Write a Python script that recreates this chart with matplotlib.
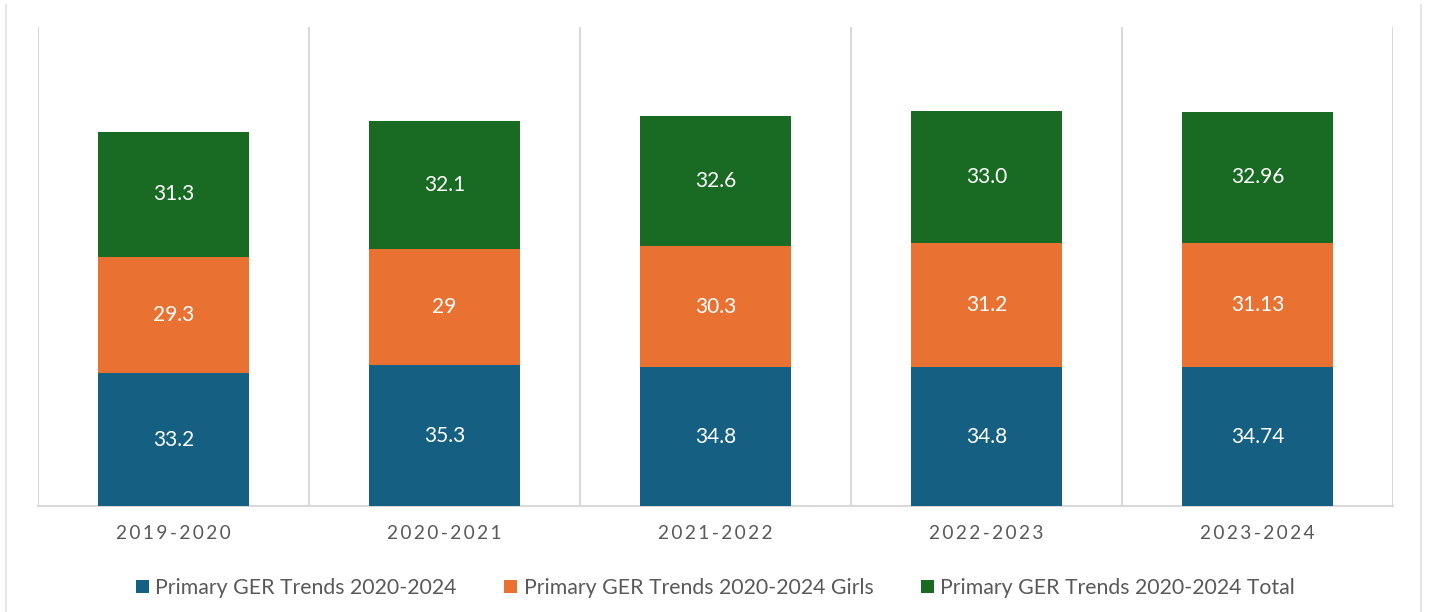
import matplotlib
matplotlib.use("Agg")
import matplotlib.pyplot as plt
import numpy as np
from matplotlib.lines import Line2D
from matplotlib.patches import Patch

years = ["2019-2020", "2020-2021", "2021-2022", "2022-2023", "2023-2024"]
ger = [33.2, 35.3, 34.8, 34.8, 34.74]
ger_girls = [29.3, 29.0, 30.3, 31.2, 31.13]
ger_total = [31.3, 32.1, 32.6, 33.0, 32.96]
label_girls = ["29.3", "29", "30.3", "31.2", "31.13"]
label_ger = ["33.2", "35.3", "34.8", "34.8", "34.74"]
label_total = ["31.3", "32.1", "32.6", "33.0", "32.96"]
series_names = ["Primary GER Trends 2020-2024",
                "Primary GER Trends 2020-2024 Girls",
                "Primary GER Trends 2020-2024 Total"]

colors = ["#156082", "#E97132", "#196B24"]
grid_c = "#D9D9D9"
text_c = "#595959"
FONT = ["Lato", "DejaVu Sans"]

plt.rcParams["font.family"] = FONT

fig = plt.figure(figsize=(14.31, 6.12), dpi=100)
W, H = 1431, 612
ax = fig.add_axes([38 / W, (H - 506) / H, (1393 - 38) / W, (506 - 27) / H])

x = np.arange(len(years))
bottom = np.zeros(len(years))
series = [(ger, label_ger), (ger_girls, label_girls), (ger_total, label_total)]
for (vals, labs), c in zip(series, colors):
    vals = np.array(vals)
    ax.bar(x, vals, width=0.56, bottom=bottom, color=c, zorder=3)
    for xi, b, v, t in zip(x, bottom, vals, labs):
        ax.text(xi, b + v / 2, t, ha="center", va="center",
                color="white", fontsize=15, zorder=4)
    bottom = bottom + vals

ax.set_xlim(-0.5, len(years) - 0.5)
ax.set_ylim(0, 120)
for b in np.arange(-0.5, len(years), 1.0):
    ax.axvline(b, color=grid_c, lw=1.5, zorder=1)
for s in ["top", "right", "left"]:
    ax.spines[s].set_visible(False)
ax.spines["bottom"].set_color(grid_c)
ax.spines["bottom"].set_linewidth(1.5)
ax.set_yticks([])
ax.set_xticks(x)
ax.set_xticklabels(["\u2009".join(y) for y in years], color=text_c, fontsize=13.8)
ax.tick_params(axis="x", length=0, pad=14)

handles = [Patch(facecolor=c, edgecolor="none") for c in colors]
fig.legend(handles, series_names, loc="center", bbox_to_anchor=(0.5, 1 - 588 / H),
           ncol=3, frameon=False, fontsize=15.3, labelcolor=text_c,
           handlelength=0.6, handleheight=0.6, handletextpad=0.3, columnspacing=2.25)

# light chart border
fig.add_artist(Line2D([6 / W, 6 / W], [0, 1 - 5 / H], color="#E6E6E6", lw=1.5))
fig.add_artist(Line2D([1421 / W, 1421 / W], [0, 1 - 5 / H], color="#E6E6E6", lw=1.5))

fig.savefig("out.png", dpi=100)
